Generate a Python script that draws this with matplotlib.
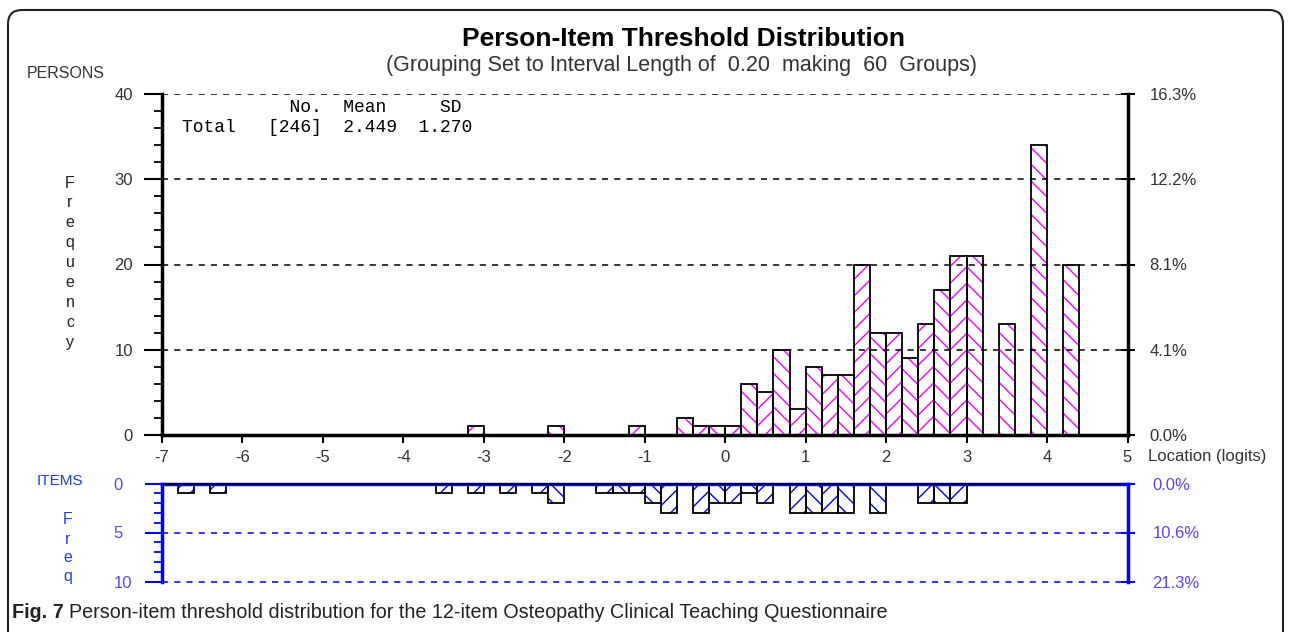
import numpy as np
import matplotlib
matplotlib.use('Agg')
import matplotlib.pyplot as plt
from matplotlib.patches import FancyBboxPatch

# person locations: left edge of each 0.2 logit group and the count in it
person_left = [-3.2, -2.2, -1.2, -0.6, -0.4, -0.2, 0.0, 0.2, 0.4, 0.6, 0.8, 1.0, 1.2,
               1.4, 1.6, 1.8, 2.0, 2.2, 2.4, 2.6, 2.8, 3.0, 3.4, 3.8, 4.2]
person_count = [1, 1, 1, 2, 1, 1, 1, 6, 5, 10, 3, 8, 7,
                7, 20, 12, 12, 9, 13, 17, 21, 21, 13, 34, 20]

# item thresholds
item_left = [-6.8, -6.4, -3.6, -3.2, -2.8, -2.4, -2.2, -1.6, -1.4, -1.2, -1.0, -0.8, -0.4,
             -0.2, 0.0, 0.2, 0.4, 0.8, 1.0, 1.2, 1.4, 1.8, 2.4, 2.6, 2.8]
item_count = [1, 1, 1, 1, 1, 1, 2, 1, 1, 1, 2, 3, 3,
              2, 2, 1, 2, 3, 3, 3, 3, 3, 2, 2, 2]

n_persons = 246
n_items = 47
bin_w = 0.2
x_ticks = list(range(-7, 6))
p_ticks = [0, 10, 20, 30, 40]
i_ticks = [0, 5, 10]

plt.rcParams['font.family'] = ['Liberation Sans', 'DejaVu Sans']
plt.rcParams['hatch.linewidth'] = 1.0
plt.rcParams['axes.unicode_minus'] = False

W, H = 1290, 632
fig = plt.figure(figsize=(12.9, 6.32), dpi=100)


def fx(px):
    return px / W


def fy(py):
    return 1 - py / H


def hatch_for(left):
    i = int(round((left + 7) / bin_w))
    return '//' if i % 2 else '\\\\'


# rounded frame round the whole figure
bg = fig.add_axes([0, 0, 1, 1], zorder=-5)
bg.set_xlim(0, W)
bg.set_ylim(H, 0)
bg.axis('off')
bg.add_patch(FancyBboxPatch((8, 10), 1275, 700, boxstyle='round,pad=0,rounding_size=14',
                            fc='white', ec='#222222', lw=1.5))

txt = '#333333'
blue = '#0000ff'
lblue = '#6040ff'

# ---- persons panel
ax = fig.add_axes([fx(162), fy(435), (1127.5 - 162) / W, (435 - 94) / H])
ax.set_xlim(-7, 5)
ax.set_ylim(0, 40)
ax.patch.set_alpha(0)

bars = ax.bar(person_left, person_count, width=bin_w, align='edge', color='white',
              edgecolor='#ff00ff', linewidth=0)
for b, l in zip(bars, person_left):
    b.set_hatch(hatch_for(l))
ax.bar(person_left, person_count, width=bin_w, align='edge', fill=False,
       edgecolor='black', linewidth=1.3)

ax.set_yticks(p_ticks)
ax.set_yticks(np.arange(0, 41, 2), minor=True)
ax.yaxis.grid(True, ls=(0, (4, 4)), color='black', lw=1.1)
ax.set_axisbelow(False)
ax.set_xticks(x_ticks)
ax.tick_params(axis='x', direction='out', length=6, width=1.5, labelsize=12, pad=5,
               labelcolor=txt)
ax.tick_params(axis='y', which='major', direction='out', length=13, width=1.5,
               labelsize=12, pad=8, labelcolor=txt)
ax.tick_params(axis='y', which='minor', direction='out', length=6, width=1.3)
ax.spines['top'].set_visible(False)
for s in ['left', 'right', 'bottom']:
    ax.spines[s].set_linewidth(2.5)

axr = ax.twinx()
axr.set_ylim(0, 40)
axr.set_yticks(p_ticks)
axr.set_yticklabels([f'{v / n_persons * 100:.1f}%' for v in p_ticks])
axr.tick_params(axis='y', direction='inout', length=10, width=1.5, labelsize=12, pad=11,
                labelcolor=txt)
for s in axr.spines.values():
    s.set_visible(False)

# ---- items panel
axi = fig.add_axes([fx(162), fy(581.5), (1127.5 - 162) / W, (581.5 - 483.5) / H])
axi.set_xlim(-7, 5)
axi.set_ylim(10, 0)
axi.patch.set_alpha(0)

ibars = axi.bar(item_left, item_count, width=bin_w, align='edge', color='white',
                edgecolor=blue, linewidth=0)
for b, l in zip(ibars, item_left):
    b.set_hatch(hatch_for(l))
axi.bar(item_left, item_count, width=bin_w, align='edge', fill=False,
        edgecolor='black', linewidth=1.3)

axi.set_yticks(i_ticks)
axi.set_yticks(np.arange(0, 11, 1), minor=True)
axi.yaxis.grid(True, ls=(0, (4, 4)), color=blue, lw=1.1)
for gl in axi.yaxis.get_gridlines():
    gl.set_clip_on(False)
axi.set_axisbelow(False)
axi.set_xticks([])
axi.tick_params(axis='y', which='major', direction='out', length=12, width=1.5,
                labelsize=12, pad=23, labelcolor=lblue, color=blue)
axi.tick_params(axis='y', which='minor', direction='out', length=6, width=1.3, color=blue)
for lab in axi.get_yticklabels():
    lab.set_ha('left')
axi.spines['bottom'].set_visible(False)
for s in ['left', 'right', 'top']:
    axi.spines[s].set_linewidth(2.5)
    axi.spines[s].set_color(blue)
axi.axhline(0, color='black', lw=1.2, zorder=4, clip_on=False, xmin=0.002)

axir = axi.twinx()
axir.set_ylim(10, 0)
axir.set_yticks(i_ticks)
axir.set_yticklabels([f'{v / n_items * 100:.1f}%' for v in i_ticks])
axir.tick_params(axis='y', direction='inout', length=10, width=1.5, labelsize=12, pad=13,
                 labelcolor=lblue, color=blue)
for s in axir.spines.values():
    s.set_visible(False)

# ---- texts
fig.text(fx(684), fy(39), 'Person-Item Threshold Distribution', ha='center', va='center',
         fontsize=19, fontweight='bold', color='black')
fig.text(fx(682), fy(66), '(Grouping Set to Interval Length of  0.20  making  60  Groups)',
         ha='center', va='center', fontsize=15.5, color=txt)
fig.text(fx(27), fy(74), 'PERSONS', ha='left', va='center', fontsize=11.5, color=txt)
for i, ch in enumerate('Frequency'):
    fig.text(fx(70), fy(183 + i * 19.9), ch, ha='center', va='center', fontsize=11.5,
             color='#222222')
fig.text(fx(37), fy(481), 'ITEMS', ha='left', va='center', fontsize=11, color='#1f3fe0')
for i, ch in enumerate('Freq'):
    fig.text(fx(68), fy(520 + i * 19), ch, ha='center', va='center', fontsize=11.5,
             color='#1f3fe0')

fig.text(fx(182), fy(108), '          No.  Mean     SD', family='Liberation Mono',
         fontsize=13, va='center', color='black')
fig.text(fx(182), fy(128), f'Total   [{n_persons}]  2.449  1.270', family='Liberation Mono',
         fontsize=13, va='center', color='black')

fig.text(fx(1148), fy(456), 'Location (logits)', ha='left', va='center', fontsize=12,
         color=txt)

cap = fig.text(fx(12), fy(613), 'Fig. 7', ha='left', va='center', fontsize=14.2,
               fontweight='bold', color='#222222')
fig.add_artist(matplotlib.text.Annotation(
    'Person-item threshold distribution for the 12-item Osteopathy Clinical '
    'Teaching Questionnaire', xy=(1, 0.5), xycoords=cap, xytext=(4, 0),
    textcoords='offset points', fontsize=14.2, color='#222222', va='center', ha='left'))
plt.savefig('out.png', dpi=100)
